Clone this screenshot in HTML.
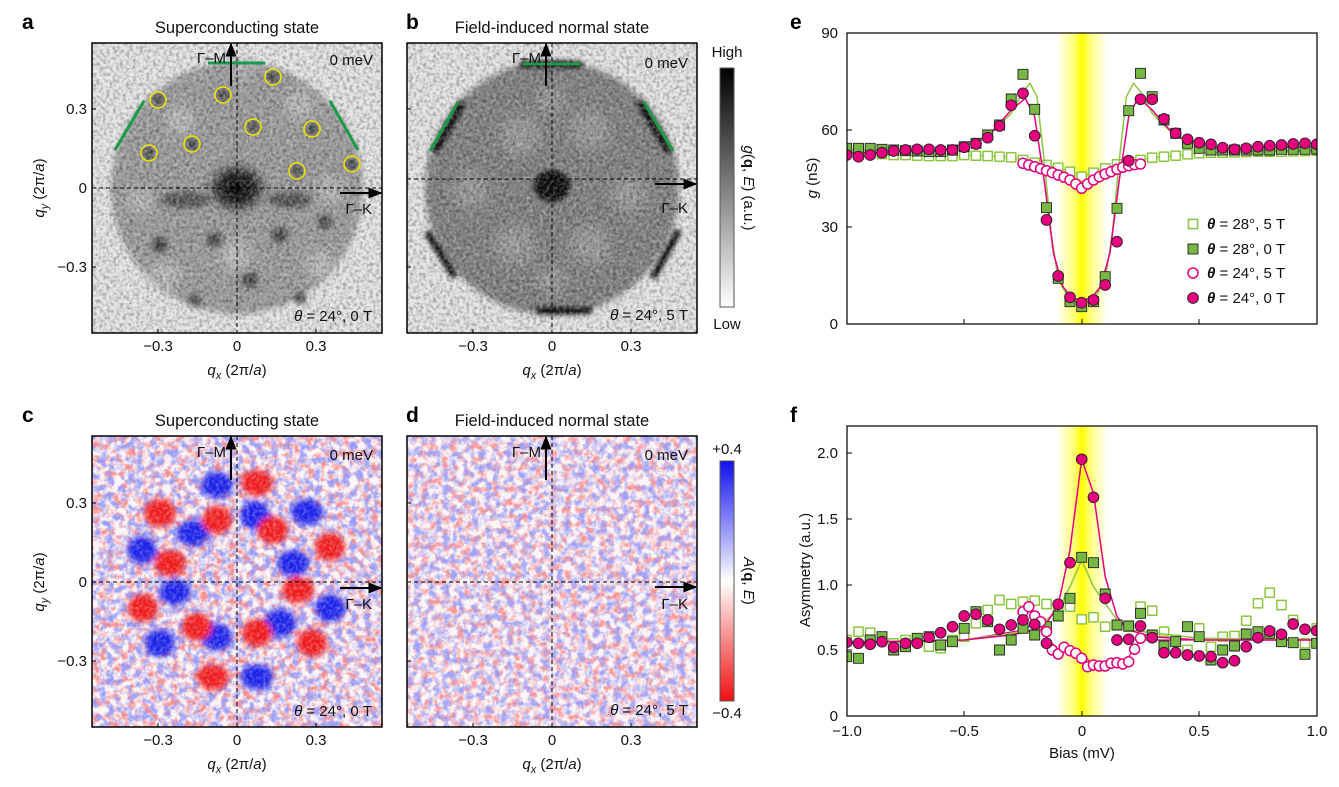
<!DOCTYPE html>
<html><head><meta charset="utf-8">
<style>
html,body{margin:0;padding:0;background:#fff;}
svg{display:block;font-family:"Liberation Sans",Arial,sans-serif;}
.t{font-size:15px;fill:#111;}
.tt{font-size:16.5px;fill:#111;}
.L{font-size:21px;font-weight:bold;fill:#000;}
</style></head><body>
<svg width="1339" height="787" viewBox="0 0 1339 787" xmlns="http://www.w3.org/2000/svg" xmlns:xlink="http://www.w3.org/1999/xlink">
<defs>
<filter id="gn" x="0" y="0" width="1" height="1"><feTurbulence type="fractalNoise" baseFrequency="0.3" numOctaves="2" seed="3"/><feColorMatrix type="matrix" values="0 0 0 0 0 0 0 0 0 0 0 0 0 0 0 2.5 0 0 0 -1.0"/></filter>
<filter id="gw" x="0" y="0" width="1" height="1"><feTurbulence type="fractalNoise" baseFrequency="0.3" numOctaves="2" seed="9"/><feColorMatrix type="matrix" values="0 0 0 0 1 0 0 0 0 1 0 0 0 0 1 2.5 0 0 0 -1.0"/></filter>
<filter id="rn" x="0" y="0" width="1" height="1"><feTurbulence type="fractalNoise" baseFrequency="0.14" numOctaves="3" seed="5"/><feColorMatrix type="matrix" values="0 0 0 0 0.93 0 0 0 0 0.25 0 0 0 0 0.25 3.5 0 0 0 -1.5"/></filter>
<filter id="bn" x="0" y="0" width="1" height="1"><feTurbulence type="fractalNoise" baseFrequency="0.14" numOctaves="3" seed="17"/><feColorMatrix type="matrix" values="0 0 0 0 0.3 0 0 0 0 0.32 0 0 0 0 0.93 3.5 0 0 0 -1.5"/></filter>
<filter id="bl3"><feGaussianBlur stdDeviation="3"/></filter>
<filter id="bl2"><feGaussianBlur stdDeviation="2"/></filter>
<filter id="bl6"><feGaussianBlur stdDeviation="6"/></filter>
<clipPath id="ca"><rect x="92" y="43" width="290" height="290"/></clipPath>
<clipPath id="cb"><rect x="407" y="43" width="290" height="290"/></clipPath>
<clipPath id="cc"><rect x="92" y="436" width="290" height="291"/></clipPath>
<clipPath id="cd"><rect x="407" y="436" width="290" height="291"/></clipPath>
<clipPath id="ce"><rect x="847" y="33" width="470" height="291"/></clipPath>
<clipPath id="cpf"><rect x="847" y="426" width="470" height="290"/></clipPath>
<radialGradient id="cen"><stop offset="0" stop-color="#000"/><stop offset="0.5" stop-color="#111" stop-opacity="0.9"/><stop offset="1" stop-color="#222" stop-opacity="0"/></radialGradient>
<linearGradient id="gcb" x1="0" y1="0" x2="0" y2="1"><stop offset="0" stop-color="#000"/><stop offset="1" stop-color="#fff"/></linearGradient>
<linearGradient id="rcb" x1="0" y1="0" x2="0" y2="1"><stop offset="0" stop-color="#1010ee"/><stop offset="0.5" stop-color="#fff"/><stop offset="1" stop-color="#ee1010"/></linearGradient>
<linearGradient id="yb" x1="0" y1="0" x2="1" y2="0"><stop offset="0" stop-color="#ffff00" stop-opacity="0"/><stop offset="0.3" stop-color="#ffff30" stop-opacity="0.55"/><stop offset="0.5" stop-color="#ffff00" stop-opacity="1"/><stop offset="0.7" stop-color="#ffff30" stop-opacity="0.55"/><stop offset="1" stop-color="#ffff00" stop-opacity="0"/></linearGradient>
<marker id="ar" viewBox="0 0 10 10" refX="9" refY="5" markerWidth="7" markerHeight="7" orient="auto"><path d="M0,1 L10,5 L0,9 z" fill="#000"/></marker>
<rect id="mQO" x="-4.6" y="-4.6" width="9.2" height="9.2" fill="#fff" stroke="#8cc63f" stroke-width="1.5"/>
<rect id="mQF" x="-5" y="-5" width="10" height="10" fill="#76b843" stroke="#222" stroke-width="0.9"/>
<circle id="mCO" r="5" fill="#fff" stroke="#e6007e" stroke-width="1.5"/>
<circle id="mCF" r="5.4" fill="#e6007e" stroke="#222" stroke-width="0.9"/>
</defs>

<text class="L" x="22" y="29">a</text>
<text class="L" x="406" y="29">b</text>
<text class="L" x="790" y="29">e</text>
<text class="L" x="22" y="422">c</text>
<text class="L" x="406" y="422">d</text>
<text class="L" x="790" y="422">f</text>
<text class="tt" x="237" y="33" text-anchor="middle">Superconducting state</text>
<text class="tt" x="552" y="33" text-anchor="middle">Field-induced normal state</text>
<text class="tt" x="237" y="426" text-anchor="middle">Superconducting state</text>
<text class="tt" x="552" y="426" text-anchor="middle">Field-induced normal state</text>

<!-- PANEL A -->
<g clip-path="url(#ca)">
<rect x="92" y="43" width="290" height="290" fill="#e4e4e4"/>
<circle cx="237" cy="188" r="126" fill="#9c9c9c" filter="url(#bl3)"/>
<g filter="url(#bl3)" fill="#444">
<ellipse cx="237" cy="188" rx="32" ry="27" fill="url(#cen)"/>
<circle cx="158" cy="100" r="6"/><circle cx="223" cy="95" r="6"/><circle cx="273" cy="77" r="6"/><circle cx="192" cy="144" r="6"/><circle cx="253" cy="127" r="6"/><circle cx="312" cy="129" r="6"/><circle cx="149" cy="153" r="6"/><circle cx="297" cy="171" r="6"/><circle cx="352" cy="164" r="6"/>
<ellipse cx="185" cy="200" rx="25" ry="8" fill="#555"/><ellipse cx="290" cy="200" rx="22" ry="8" fill="#555"/>
<circle cx="160" cy="245" r="8"/><circle cx="215" cy="240" r="8"/><circle cx="280" cy="235" r="8"/><circle cx="325" cy="222" r="7"/><circle cx="250" cy="280" r="8"/><circle cx="195" cy="300" r="6"/><circle cx="300" cy="298" r="6"/>
</g>
<g fill="#c4c4c4" filter="url(#bl6)" opacity="0.8">
<circle cx="180" cy="120" r="14"/><circle cx="300" cy="105" r="14"/><circle cx="165" cy="275" r="15"/><circle cx="235" cy="255" r="16"/><circle cx="320" cy="265" r="14"/><circle cx="330" cy="190" r="12"/><circle cx="140" cy="200" r="12"/><circle cx="240" cy="70" r="10"/>
</g>
<rect x="92" y="43" width="290" height="290" fill="#000" filter="url(#gn)" opacity="0.3"/>
<rect x="92" y="43" width="290" height="290" fill="#fff" filter="url(#gw)" opacity="0.3"/>
</g>
<g stroke="#000" stroke-width="1" stroke-dasharray="4,3"><line x1="237" y1="43" x2="237" y2="333"/><line x1="92" y1="188" x2="382" y2="188"/></g>
<g stroke="#1a9a4a" stroke-width="3"><line x1="208" y1="63" x2="265" y2="63"/><line x1="115" y1="150" x2="144" y2="101"/><line x1="330" y1="101" x2="358" y2="150"/></g>
<g fill="none" stroke="#f2e600" stroke-width="1.5"><circle cx="158" cy="100" r="8"/><circle cx="223" cy="95" r="8"/><circle cx="273" cy="77" r="8"/><circle cx="192" cy="144" r="8"/><circle cx="253" cy="127" r="8"/><circle cx="312" cy="129" r="8"/><circle cx="149" cy="153" r="8"/><circle cx="297" cy="171" r="8"/><circle cx="352" cy="164" r="8"/></g>
<line x1="231" y1="86" x2="231" y2="44" stroke="#000" stroke-width="2" marker-end="url(#ar)"/>
<line x1="340" y1="193" x2="381" y2="193" stroke="#000" stroke-width="2" marker-end="url(#ar)"/>
<text class="t" x="226" y="63" text-anchor="end">Γ–M</text>
<text class="t" x="373" y="65" text-anchor="end">0 meV</text>
<text class="t" x="372" y="214" text-anchor="end">Γ–K</text>
<text class="t" x="372" y="321" text-anchor="end"><tspan font-style="italic">θ</tspan> = 24°, 0 T</text>
<rect x="92" y="43" width="290" height="290" fill="none" stroke="#000" stroke-width="1.5"/>

<!-- PANEL B -->
<g clip-path="url(#cb)">
<rect x="407" y="43" width="290" height="290" fill="#e4e4e4"/>
<circle cx="552" cy="188" r="127" fill="#808080" filter="url(#bl3)"/>
<g fill="#9c9c9c" filter="url(#bl6)" opacity="0.9">
<circle cx="520" cy="135" r="20"/><circle cx="590" cy="130" r="20"/><circle cx="470" cy="190" r="18"/><circle cx="630" cy="195" r="18"/><circle cx="515" cy="245" r="20"/><circle cx="590" cy="245" r="20"/><circle cx="552" cy="100" r="14"/><circle cx="552" cy="280" r="14"/>
</g>
<g fill="#111" filter="url(#bl2)">
<ellipse cx="552" cy="186" rx="18" ry="16"/>
<rect x="520" y="61" width="62" height="7"/><rect x="537" y="307" width="55" height="7"/>
<path d="M432,150 L460,100 L466,104 L438,154 Z"/><path d="M642,100 L672,150 L666,154 L636,104 Z"/>
<path d="M430,230 L458,275 L452,279 L424,234 Z"/><path d="M676,228 L650,276 L656,280 L682,232 Z"/>
</g>
<rect x="407" y="43" width="290" height="290" fill="#000" filter="url(#gn)" opacity="0.3"/>
<rect x="407" y="43" width="290" height="290" fill="#fff" filter="url(#gw)" opacity="0.3"/>
</g>
<g stroke="#000" stroke-width="1" stroke-dasharray="4,3"><line x1="552" y1="43" x2="552" y2="333"/><line x1="407" y1="179" x2="697" y2="179"/></g>
<g stroke="#1a9a4a" stroke-width="3"><line x1="523" y1="64" x2="580" y2="64"/><line x1="430" y1="151" x2="458" y2="102"/><line x1="644" y1="102" x2="673" y2="151"/></g>
<line x1="546" y1="86" x2="546" y2="44" stroke="#000" stroke-width="2" marker-end="url(#ar)"/>
<line x1="655" y1="184" x2="696" y2="184" stroke="#000" stroke-width="2" marker-end="url(#ar)"/>
<text class="t" x="541" y="63" text-anchor="end">Γ–M</text>
<text class="t" x="688" y="68" text-anchor="end">0 meV</text>
<text class="t" x="688" y="213" text-anchor="end">Γ–K</text>
<text class="t" x="688" y="320" text-anchor="end"><tspan font-style="italic">θ</tspan> = 24°, 5 T</text>
<rect x="407" y="43" width="290" height="290" fill="none" stroke="#000" stroke-width="1.5"/>

<rect x="720" y="68" width="14" height="239" fill="url(#gcb)" stroke="#555" stroke-width="1"/>
<text class="t" x="727" y="57" text-anchor="middle" font-size="16">High</text>
<text class="t" x="727" y="329" text-anchor="middle" font-size="16">Low</text>
<text class="t" transform="translate(744,188) rotate(90)" text-anchor="middle"><tspan font-style="italic">g</tspan>(<tspan font-weight="bold">q</tspan>, <tspan font-style="italic">E</tspan>) (a.u.)</text>

<g class="t" text-anchor="end"><text x="87" y="114">0.3</text><text x="87" y="193">0</text><text x="87" y="272">−0.3</text></g>
<g class="t" text-anchor="middle"><text x="158" y="351">−0.3</text><text x="237" y="351">0</text><text x="316" y="351">0.3</text>
<text x="473" y="351">−0.3</text><text x="552" y="351">0</text><text x="631" y="351">0.3</text></g>
<text class="t" x="237" y="375" text-anchor="middle"><tspan font-style="italic">q</tspan><tspan font-style="italic" font-size="11" dy="4">x</tspan><tspan dy="-4"> (2π/</tspan><tspan font-style="italic">a</tspan>)</text>
<text class="t" x="552" y="375" text-anchor="middle"><tspan font-style="italic">q</tspan><tspan font-style="italic" font-size="11" dy="4">x</tspan><tspan dy="-4"> (2π/</tspan><tspan font-style="italic">a</tspan>)</text>
<text class="t" transform="translate(44,188) rotate(-90)" text-anchor="middle"><tspan font-style="italic">q</tspan><tspan font-style="italic" font-size="11" dy="4">y</tspan><tspan dy="-4"> (2π/</tspan><tspan font-style="italic">a</tspan>)</text>
<g stroke="#000"><line x1="92" y1="109" x2="96" y2="109"/><line x1="92" y1="267" x2="96" y2="267"/><line x1="158" y1="333" x2="158" y2="329"/><line x1="316" y1="333" x2="316" y2="329"/>
<line x1="407" y1="109" x2="411" y2="109"/><line x1="407" y1="267" x2="411" y2="267"/><line x1="473" y1="333" x2="473" y2="329"/><line x1="631" y1="333" x2="631" y2="329"/></g>

<!-- PANEL C -->
<g clip-path="url(#cc)">
<rect x="92" y="436" width="290" height="291" fill="#fbf4f6"/>
<rect x="92" y="436" width="290" height="291" filter="url(#rn)"/>
<rect x="92" y="436" width="290" height="291" filter="url(#bn)"/>
<g filter="url(#bl3)">
<g fill="#1a22e8"><ellipse cx="217" cy="485" rx="16" ry="13"/><ellipse cx="255" cy="515" rx="15" ry="14"/><ellipse cx="193" cy="533" rx="16" ry="13"/><ellipse cx="142" cy="550" rx="15" ry="14"/><ellipse cx="307" cy="512" rx="16" ry="13"/><ellipse cx="293" cy="563" rx="16" ry="13"/><ellipse cx="175" cy="592" rx="16" ry="13"/><ellipse cx="330" cy="608" rx="15" ry="14"/><ellipse cx="160" cy="643" rx="15" ry="14"/><ellipse cx="217" cy="637" rx="15" ry="14"/><ellipse cx="280" cy="623" rx="16" ry="14"/><ellipse cx="257" cy="677" rx="16" ry="13"/></g>
<g fill="#ee1c1c"><ellipse cx="257" cy="483" rx="16" ry="13"/><ellipse cx="160" cy="513" rx="16" ry="14"/><ellipse cx="217" cy="520" rx="15" ry="14"/><ellipse cx="273" cy="530" rx="15" ry="14"/><ellipse cx="330" cy="547" rx="15" ry="14"/><ellipse cx="170" cy="563" rx="16" ry="13"/><ellipse cx="298" cy="590" rx="16" ry="13"/><ellipse cx="143" cy="608" rx="15" ry="14"/><ellipse cx="197" cy="627" rx="15" ry="14"/><ellipse cx="257" cy="633" rx="15" ry="14"/><ellipse cx="312" cy="643" rx="15" ry="14"/><ellipse cx="213" cy="677" rx="16" ry="13"/></g>
</g>
<rect x="92" y="436" width="290" height="291" fill="#fff" filter="url(#gw)" opacity="0.3"/>
</g>
<g stroke="#000" stroke-width="1" stroke-dasharray="4,3"><line x1="237" y1="436" x2="237" y2="727"/><line x1="92" y1="582" x2="382" y2="582"/></g>
<line x1="231" y1="480" x2="231" y2="437" stroke="#000" stroke-width="2" marker-end="url(#ar)"/>
<line x1="340" y1="588" x2="381" y2="588" stroke="#000" stroke-width="2" marker-end="url(#ar)"/>
<text class="t" x="226" y="457" text-anchor="end">Γ–M</text>
<text class="t" x="373" y="460" text-anchor="end">0 meV</text>
<text class="t" x="372" y="609" text-anchor="end">Γ–K</text>
<text class="t" x="372" y="716" text-anchor="end"><tspan font-style="italic">θ</tspan> = 24°, 0 T</text>
<rect x="92" y="436" width="290" height="291" fill="none" stroke="#000" stroke-width="1.5"/>

<!-- PANEL D -->
<g clip-path="url(#cd)">
<rect x="407" y="436" width="290" height="291" fill="#fbf4f6"/>
<rect x="407" y="436" width="290" height="291" filter="url(#rn)" opacity="0.9"/>
<rect x="407" y="436" width="290" height="291" filter="url(#bn)" opacity="0.9"/>
<rect x="407" y="436" width="290" height="291" fill="#fff" filter="url(#gw)" opacity="0.3"/>
</g>
<g stroke="#000" stroke-width="1" stroke-dasharray="4,3"><line x1="552" y1="436" x2="552" y2="727"/><line x1="407" y1="582" x2="697" y2="582"/></g>
<line x1="546" y1="480" x2="546" y2="437" stroke="#000" stroke-width="2" marker-end="url(#ar)"/>
<line x1="655" y1="587" x2="696" y2="587" stroke="#000" stroke-width="2" marker-end="url(#ar)"/>
<text class="t" x="541" y="457" text-anchor="end">Γ–M</text>
<text class="t" x="688" y="460" text-anchor="end">0 meV</text>
<text class="t" x="688" y="609" text-anchor="end">Γ–K</text>
<text class="t" x="688" y="715" text-anchor="end"><tspan font-style="italic">θ</tspan> = 24°, 5 T</text>
<rect x="407" y="436" width="290" height="291" fill="none" stroke="#000" stroke-width="1.5"/>

<rect x="720" y="461" width="14" height="240" fill="url(#rcb)" stroke="#555" stroke-width="1"/>
<text class="t" x="727" y="454" text-anchor="middle">+0.4</text>
<text class="t" x="727" y="718" text-anchor="middle">−0.4</text>
<text class="t" transform="translate(744,581) rotate(90)" text-anchor="middle"><tspan font-style="italic">A</tspan>(<tspan font-weight="bold">q</tspan>, <tspan font-style="italic">E</tspan>)</text>

<g class="t" text-anchor="end"><text x="87" y="508">0.3</text><text x="87" y="587">0</text><text x="87" y="666">−0.3</text></g>
<g class="t" text-anchor="middle"><text x="158" y="745">−0.3</text><text x="237" y="745">0</text><text x="316" y="745">0.3</text>
<text x="473" y="745">−0.3</text><text x="552" y="745">0</text><text x="631" y="745">0.3</text></g>
<text class="t" x="237" y="769" text-anchor="middle"><tspan font-style="italic">q</tspan><tspan font-style="italic" font-size="11" dy="4">x</tspan><tspan dy="-4"> (2π/</tspan><tspan font-style="italic">a</tspan>)</text>
<text class="t" x="552" y="769" text-anchor="middle"><tspan font-style="italic">q</tspan><tspan font-style="italic" font-size="11" dy="4">x</tspan><tspan dy="-4"> (2π/</tspan><tspan font-style="italic">a</tspan>)</text>
<text class="t" transform="translate(44,582) rotate(-90)" text-anchor="middle"><tspan font-style="italic">q</tspan><tspan font-style="italic" font-size="11" dy="4">y</tspan><tspan dy="-4"> (2π/</tspan><tspan font-style="italic">a</tspan>)</text>
<g stroke="#000"><line x1="92" y1="503" x2="96" y2="503"/><line x1="92" y1="661" x2="96" y2="661"/><line x1="158" y1="727" x2="158" y2="723"/><line x1="316" y1="727" x2="316" y2="723"/>
<line x1="407" y1="503" x2="411" y2="503"/><line x1="407" y1="661" x2="411" y2="661"/><line x1="473" y1="727" x2="473" y2="723"/><line x1="631" y1="727" x2="631" y2="723"/></g>

<!-- PANEL E -->
<rect x="1057" y="33" width="50" height="291" fill="url(#yb)"/>
<g clip-path="url(#ce)" fill="none" stroke-linejoin="round">
<polyline stroke="#8cc63f" stroke-width="1.2" points="846.7,151.7 858.5,152.3 870.2,153.3 882,154 893.7,155 905.5,155 917.2,155.7 929,156 940.7,156 952.5,156 964.2,155 976,155.7 987.7,156 999.5,156.7 1011.2,157.3 1023,160 1034.7,162.7 1046.5,165 1058.2,167.7 1070,171.7 1081.7,176.7 1093.5,172.7 1105.2,168.3 1117,164.3 1128.7,161.7 1140.5,160 1152.2,157.7 1164,156.7 1175.7,155.7 1187.5,154.3 1199.2,153.3 1211,152.7 1222.7,152.7 1234.5,152.3 1246.2,152 1258,151.7 1269.7,151.7 1281.5,151.7 1293.2,151.3 1305,151 1316.7,150.7"/>
<g>
<use xlink:href="#mQO" x="846.7" y="151.7"/><use xlink:href="#mQO" x="858.5" y="152.3"/><use xlink:href="#mQO" x="870.2" y="153.3"/><use xlink:href="#mQO" x="882" y="154"/><use xlink:href="#mQO" x="893.7" y="155"/><use xlink:href="#mQO" x="905.5" y="155"/><use xlink:href="#mQO" x="917.2" y="155.7"/><use xlink:href="#mQO" x="929" y="156"/><use xlink:href="#mQO" x="940.7" y="156"/><use xlink:href="#mQO" x="952.5" y="156"/><use xlink:href="#mQO" x="964.2" y="155"/><use xlink:href="#mQO" x="976" y="155.7"/><use xlink:href="#mQO" x="987.7" y="156"/><use xlink:href="#mQO" x="999.5" y="156.7"/><use xlink:href="#mQO" x="1011.2" y="157.3"/><use xlink:href="#mQO" x="1023" y="160"/><use xlink:href="#mQO" x="1034.7" y="162.7"/><use xlink:href="#mQO" x="1046.5" y="165"/><use xlink:href="#mQO" x="1058.2" y="167.7"/><use xlink:href="#mQO" x="1070" y="171.7"/><use xlink:href="#mQO" x="1081.7" y="176.7"/><use xlink:href="#mQO" x="1093.5" y="172.7"/><use xlink:href="#mQO" x="1105.2" y="168.3"/><use xlink:href="#mQO" x="1117" y="164.3"/><use xlink:href="#mQO" x="1128.7" y="161.7"/><use xlink:href="#mQO" x="1140.5" y="160"/><use xlink:href="#mQO" x="1152.2" y="157.7"/><use xlink:href="#mQO" x="1164" y="156.7"/><use xlink:href="#mQO" x="1175.7" y="155.7"/><use xlink:href="#mQO" x="1187.5" y="154.3"/><use xlink:href="#mQO" x="1199.2" y="153.3"/><use xlink:href="#mQO" x="1211" y="152.7"/><use xlink:href="#mQO" x="1222.7" y="152.7"/><use xlink:href="#mQO" x="1234.5" y="152.3"/><use xlink:href="#mQO" x="1246.2" y="152"/><use xlink:href="#mQO" x="1258" y="151.7"/><use xlink:href="#mQO" x="1269.7" y="151.7"/><use xlink:href="#mQO" x="1281.5" y="151.7"/><use xlink:href="#mQO" x="1293.2" y="151.3"/><use xlink:href="#mQO" x="1305" y="151"/><use xlink:href="#mQO" x="1316.7" y="150.7"/>
</g>
<polyline stroke="#e6007e" stroke-width="1.2" points="1023,163.3 1028.8,165 1034.7,166.7 1040.6,168.7 1046.5,170.7 1052.3,172.7 1058.2,175 1064.1,177.3 1070,180 1075.8,184 1081.7,188.3 1087.6,184 1093.5,180 1099.3,176.7 1105.2,174 1111.1,171.7 1117,169.3 1122.8,167.3 1128.7,165.7 1134.6,164.7 1140.5,164"/>
<polyline stroke="#8cc63f" stroke-width="1.5" points="846.7,150 940.7,150.7 987.7,136.7 1011.2,113.3 1023,91.7 1030,83.3 1037,96.7 1044.1,160 1051.2,233.3 1058.2,280 1070,300 1081.7,303.3 1093.5,300 1105.2,280 1112.3,233.3 1119.3,160 1126.4,96.7 1133.4,83.3 1140.5,91.7 1152.2,113.3 1175.7,136.7 1222.7,150.7 1316.7,150"/>
<polyline stroke="#e6007e" stroke-width="1.5" points="846.7,153.3 940.7,150.7 987.7,136.7 1011.2,110 1025.3,98.3 1034.7,116.7 1044.1,180 1053.5,253.3 1062.9,286.7 1072.3,298.3 1081.7,300 1091.1,298.3 1100.5,286.7 1109.9,253.3 1119.3,180 1128.7,116.7 1138.1,97.3 1152.2,110 1175.7,136.7 1222.7,148.3 1316.7,146.7"/>
<g>
<use xlink:href="#mQF" x="846.7" y="148.3"/><use xlink:href="#mQF" x="858.5" y="148.3"/><use xlink:href="#mQF" x="870.2" y="148.3"/><use xlink:href="#mQF" x="882" y="149.3"/><use xlink:href="#mQF" x="893.7" y="150"/><use xlink:href="#mQF" x="905.5" y="150.7"/><use xlink:href="#mQF" x="917.2" y="151"/><use xlink:href="#mQF" x="929" y="151.7"/><use xlink:href="#mQF" x="940.7" y="151.7"/><use xlink:href="#mQF" x="952.5" y="150"/><use xlink:href="#mQF" x="964.2" y="146.7"/><use xlink:href="#mQF" x="976" y="143.3"/><use xlink:href="#mQF" x="987.7" y="135"/><use xlink:href="#mQF" x="999.5" y="125"/><use xlink:href="#mQF" x="1011.2" y="99"/><use xlink:href="#mQF" x="1023" y="74.3"/><use xlink:href="#mQF" x="1034.7" y="109.3"/><use xlink:href="#mQF" x="1046.5" y="207.7"/><use xlink:href="#mQF" x="1058.2" y="278.3"/><use xlink:href="#mQF" x="1070" y="301.7"/><use xlink:href="#mQF" x="1081.7" y="306.7"/><use xlink:href="#mQF" x="1093.5" y="301.7"/><use xlink:href="#mQF" x="1105.2" y="276.7"/><use xlink:href="#mQF" x="1117" y="208.3"/><use xlink:href="#mQF" x="1128.7" y="110.7"/><use xlink:href="#mQF" x="1140.5" y="73.3"/><use xlink:href="#mQF" x="1152.2" y="96.7"/><use xlink:href="#mQF" x="1164" y="120"/><use xlink:href="#mQF" x="1175.7" y="133.3"/><use xlink:href="#mQF" x="1187.5" y="143.3"/><use xlink:href="#mQF" x="1199.2" y="148.3"/><use xlink:href="#mQF" x="1211" y="150"/><use xlink:href="#mQF" x="1222.7" y="150"/><use xlink:href="#mQF" x="1234.5" y="150"/><use xlink:href="#mQF" x="1246.2" y="150"/><use xlink:href="#mQF" x="1258" y="150"/><use xlink:href="#mQF" x="1269.7" y="150"/><use xlink:href="#mQF" x="1281.5" y="149.3"/><use xlink:href="#mQF" x="1293.2" y="149.3"/><use xlink:href="#mQF" x="1305" y="149.3"/><use xlink:href="#mQF" x="1316.7" y="149"/>
</g>
<g>
<use xlink:href="#mCO" x="1023" y="163.3"/><use xlink:href="#mCO" x="1028.8" y="165"/><use xlink:href="#mCO" x="1034.7" y="166.7"/><use xlink:href="#mCO" x="1040.6" y="168.7"/><use xlink:href="#mCO" x="1046.5" y="170.7"/><use xlink:href="#mCO" x="1052.3" y="172.7"/><use xlink:href="#mCO" x="1058.2" y="175"/><use xlink:href="#mCO" x="1064.1" y="177.3"/><use xlink:href="#mCO" x="1070" y="180"/><use xlink:href="#mCO" x="1075.8" y="184"/><use xlink:href="#mCO" x="1081.7" y="188.3"/><use xlink:href="#mCO" x="1087.6" y="184"/><use xlink:href="#mCO" x="1093.5" y="180"/><use xlink:href="#mCO" x="1099.3" y="176.7"/><use xlink:href="#mCO" x="1105.2" y="174"/><use xlink:href="#mCO" x="1111.1" y="171.7"/><use xlink:href="#mCO" x="1117" y="169.3"/><use xlink:href="#mCO" x="1122.8" y="167.3"/><use xlink:href="#mCO" x="1128.7" y="165.7"/><use xlink:href="#mCO" x="1134.6" y="164.7"/><use xlink:href="#mCO" x="1140.5" y="164"/>
</g>
<g>
<use xlink:href="#mCF" x="846.7" y="155"/><use xlink:href="#mCF" x="858.5" y="156.7"/><use xlink:href="#mCF" x="870.2" y="155"/><use xlink:href="#mCF" x="882" y="152.7"/><use xlink:href="#mCF" x="893.7" y="151"/><use xlink:href="#mCF" x="905.5" y="150"/><use xlink:href="#mCF" x="917.2" y="149.3"/><use xlink:href="#mCF" x="929" y="149.3"/><use xlink:href="#mCF" x="940.7" y="150"/><use xlink:href="#mCF" x="952.5" y="150"/><use xlink:href="#mCF" x="964.2" y="147.3"/><use xlink:href="#mCF" x="976" y="144"/><use xlink:href="#mCF" x="987.7" y="137.7"/><use xlink:href="#mCF" x="999.5" y="126"/><use xlink:href="#mCF" x="1011.2" y="105.3"/><use xlink:href="#mCF" x="1023" y="93.3"/><use xlink:href="#mCF" x="1034.7" y="135.7"/><use xlink:href="#mCF" x="1046.5" y="220"/><use xlink:href="#mCF" x="1058.2" y="276"/><use xlink:href="#mCF" x="1070" y="297.3"/><use xlink:href="#mCF" x="1081.7" y="302.7"/><use xlink:href="#mCF" x="1093.5" y="300"/><use xlink:href="#mCF" x="1105.2" y="285"/><use xlink:href="#mCF" x="1117" y="241.7"/><use xlink:href="#mCF" x="1128.7" y="160.7"/><use xlink:href="#mCF" x="1140.5" y="99.3"/><use xlink:href="#mCF" x="1152.2" y="99.3"/><use xlink:href="#mCF" x="1164" y="119"/><use xlink:href="#mCF" x="1175.7" y="133.3"/><use xlink:href="#mCF" x="1187.5" y="139.3"/><use xlink:href="#mCF" x="1199.2" y="142.7"/><use xlink:href="#mCF" x="1211" y="144.3"/><use xlink:href="#mCF" x="1222.7" y="147.7"/><use xlink:href="#mCF" x="1234.5" y="149.3"/><use xlink:href="#mCF" x="1246.2" y="148.3"/><use xlink:href="#mCF" x="1258" y="146.7"/><use xlink:href="#mCF" x="1269.7" y="145.7"/><use xlink:href="#mCF" x="1281.5" y="145"/><use xlink:href="#mCF" x="1293.2" y="144"/><use xlink:href="#mCF" x="1305" y="143.3"/><use xlink:href="#mCF" x="1316.7" y="144.3"/>
</g>
</g>
<rect x="847" y="33" width="470" height="291" fill="none" stroke="#000" stroke-width="1.2"/>
<g stroke="#000"><line x1="847" y1="227" x2="852" y2="227"/><line x1="847" y1="130" x2="852" y2="130"/><line x1="964" y1="324" x2="964" y2="319"/><line x1="1082" y1="324" x2="1082" y2="319"/><line x1="1199" y1="324" x2="1199" y2="319"/></g>
<g class="t" text-anchor="end"><text x="838" y="329">0</text><text x="838" y="232">30</text><text x="838" y="135">60</text><text x="838" y="38">90</text></g>
<text class="t" transform="translate(817,178) rotate(-90)" text-anchor="middle"><tspan font-style="italic">g</tspan> (nS)</text>
<use xlink:href="#mQO" x="1193" y="224"/><use xlink:href="#mQF" x="1193" y="249"/><use xlink:href="#mCO" x="1193" y="273"/><use xlink:href="#mCF" x="1193" y="298"/>
<g class="t" font-size="15.5">
<text x="1207" y="229"><tspan font-style="italic" font-weight="bold">θ</tspan> = 28°, 5 T</text>
<text x="1207" y="254"><tspan font-style="italic" font-weight="bold">θ</tspan> = 28°, 0 T</text>
<text x="1207" y="278"><tspan font-style="italic" font-weight="bold">θ</tspan> = 24°, 5 T</text>
<text x="1207" y="303"><tspan font-style="italic" font-weight="bold">θ</tspan> = 24°, 0 T</text>
</g>

<!-- PANEL F -->
<rect x="1057" y="426" width="50" height="290" fill="url(#yb)"/>
<g clip-path="url(#cpf)" fill="none" stroke-linejoin="round">
<g>
<use xlink:href="#mQO" x="846.7" y="640"/><use xlink:href="#mQO" x="858.5" y="631.7"/><use xlink:href="#mQO" x="870.2" y="632.7"/><use xlink:href="#mQO" x="882" y="640"/><use xlink:href="#mQO" x="893.7" y="643.3"/><use xlink:href="#mQO" x="905.5" y="640"/><use xlink:href="#mQO" x="917.2" y="641.7"/><use xlink:href="#mQO" x="929" y="646.7"/><use xlink:href="#mQO" x="940.7" y="648.3"/><use xlink:href="#mQO" x="952.5" y="640"/><use xlink:href="#mQO" x="964.2" y="636.7"/><use xlink:href="#mQO" x="976" y="623.3"/><use xlink:href="#mQO" x="987.7" y="610"/><use xlink:href="#mQO" x="999.5" y="600"/><use xlink:href="#mQO" x="1011.2" y="604"/><use xlink:href="#mQO" x="1023" y="601.7"/><use xlink:href="#mQO" x="1034.7" y="600.7"/><use xlink:href="#mQO" x="1046.5" y="604"/><use xlink:href="#mQO" x="1058.2" y="610"/><use xlink:href="#mQO" x="1070" y="606.7"/><use xlink:href="#mQO" x="1081.7" y="619.3"/><use xlink:href="#mQO" x="1093.5" y="617.3"/><use xlink:href="#mQO" x="1105.2" y="626.7"/><use xlink:href="#mQO" x="1117" y="625"/><use xlink:href="#mQO" x="1128.7" y="626.7"/><use xlink:href="#mQO" x="1140.5" y="606.7"/><use xlink:href="#mQO" x="1152.2" y="610.7"/><use xlink:href="#mQO" x="1164" y="631.7"/><use xlink:href="#mQO" x="1175.7" y="640"/><use xlink:href="#mQO" x="1187.5" y="650"/><use xlink:href="#mQO" x="1199.2" y="628.3"/><use xlink:href="#mQO" x="1211" y="646.7"/><use xlink:href="#mQO" x="1222.7" y="636.7"/><use xlink:href="#mQO" x="1234.5" y="636"/><use xlink:href="#mQO" x="1246.2" y="620.7"/><use xlink:href="#mQO" x="1258" y="603.3"/><use xlink:href="#mQO" x="1269.7" y="592.7"/><use xlink:href="#mQO" x="1281.5" y="605"/><use xlink:href="#mQO" x="1293.2" y="620"/><use xlink:href="#mQO" x="1305" y="643.3"/><use xlink:href="#mQO" x="1316.7" y="628.3"/>
</g>
<polyline stroke="#e6007e" stroke-width="1.2" points="846.7,642.3 964.2,640 1023,630 1034.7,623.3 1046.5,636.7 1058.2,650 1070,651.7 1081.7,653.3 1093.5,665 1105.2,666 1117,664 1128.7,656.7 1140.5,640 1175.7,640 1316.7,640"/>
<polyline stroke="#8cc63f" stroke-width="1.5" points="846.7,643.3 964.2,640 1034.7,630 1058.2,610 1070,586.7 1081.7,560 1093.5,586.7 1105.2,603.3 1117,620 1128.7,630 1199.2,638.3 1316.7,640"/>
<polyline stroke="#e6007e" stroke-width="1.5" points="846.7,642.3 964.2,640 1011.2,635 1034.7,630 1046.5,623.3 1058.2,605 1070,550 1081.7,459.3 1093.5,493.3 1105.2,576.7 1117,616.7 1128.7,630 1152.2,636.7 1199.2,640 1316.7,640"/>
<g>
<use xlink:href="#mQF" x="846.7" y="656.7"/><use xlink:href="#mQF" x="858.5" y="658.3"/><use xlink:href="#mQF" x="870.2" y="640"/><use xlink:href="#mQF" x="882" y="636.7"/><use xlink:href="#mQF" x="893.7" y="650"/><use xlink:href="#mQF" x="905.5" y="646.7"/><use xlink:href="#mQF" x="917.2" y="638.3"/><use xlink:href="#mQF" x="929" y="636.7"/><use xlink:href="#mQF" x="940.7" y="645"/><use xlink:href="#mQF" x="952.5" y="641.7"/><use xlink:href="#mQF" x="964.2" y="628.3"/><use xlink:href="#mQF" x="976" y="611.7"/><use xlink:href="#mQF" x="987.7" y="621.7"/><use xlink:href="#mQF" x="999.5" y="650"/><use xlink:href="#mQF" x="1011.2" y="640"/><use xlink:href="#mQF" x="1023" y="628.3"/><use xlink:href="#mQF" x="1034.7" y="635"/><use xlink:href="#mQF" x="1046.5" y="626.7"/><use xlink:href="#mQF" x="1058.2" y="616"/><use xlink:href="#mQF" x="1070" y="598.3"/><use xlink:href="#mQF" x="1081.7" y="557.3"/><use xlink:href="#mQF" x="1093.5" y="562.7"/><use xlink:href="#mQF" x="1105.2" y="594"/><use xlink:href="#mQF" x="1117" y="625"/><use xlink:href="#mQF" x="1128.7" y="626"/><use xlink:href="#mQF" x="1140.5" y="613.3"/><use xlink:href="#mQF" x="1152.2" y="635"/><use xlink:href="#mQF" x="1164" y="646"/><use xlink:href="#mQF" x="1175.7" y="641.7"/><use xlink:href="#mQF" x="1187.5" y="626.7"/><use xlink:href="#mQF" x="1199.2" y="636.7"/><use xlink:href="#mQF" x="1211" y="660"/><use xlink:href="#mQF" x="1222.7" y="650"/><use xlink:href="#mQF" x="1234.5" y="646"/><use xlink:href="#mQF" x="1246.2" y="634"/><use xlink:href="#mQF" x="1258" y="631.7"/><use xlink:href="#mQF" x="1269.7" y="633.3"/><use xlink:href="#mQF" x="1281.5" y="641.7"/><use xlink:href="#mQF" x="1293.2" y="642.7"/><use xlink:href="#mQF" x="1305" y="654.3"/><use xlink:href="#mQF" x="1316.7" y="643.3"/>
</g>
<g>
<use xlink:href="#mCO" x="1023" y="611.7"/><use xlink:href="#mCO" x="1028.8" y="606.7"/><use xlink:href="#mCO" x="1034.7" y="616"/><use xlink:href="#mCO" x="1040.6" y="621.7"/><use xlink:href="#mCO" x="1046.5" y="631.7"/><use xlink:href="#mCO" x="1052.3" y="650"/><use xlink:href="#mCO" x="1058.2" y="654"/><use xlink:href="#mCO" x="1064.1" y="647.3"/><use xlink:href="#mCO" x="1070" y="650.7"/><use xlink:href="#mCO" x="1075.8" y="653.3"/><use xlink:href="#mCO" x="1081.7" y="658.3"/><use xlink:href="#mCO" x="1087.6" y="666.7"/><use xlink:href="#mCO" x="1093.5" y="665"/><use xlink:href="#mCO" x="1099.3" y="666"/><use xlink:href="#mCO" x="1105.2" y="666"/><use xlink:href="#mCO" x="1111.1" y="663.3"/><use xlink:href="#mCO" x="1117" y="662.7"/><use xlink:href="#mCO" x="1122.8" y="664"/><use xlink:href="#mCO" x="1128.7" y="661.7"/><use xlink:href="#mCO" x="1134.6" y="649.3"/><use xlink:href="#mCO" x="1140.5" y="638.3"/>
</g>
<g>
<use xlink:href="#mCF" x="846.7" y="642.3"/><use xlink:href="#mCF" x="858.5" y="643.3"/><use xlink:href="#mCF" x="870.2" y="644.3"/><use xlink:href="#mCF" x="882" y="641.7"/><use xlink:href="#mCF" x="893.7" y="647.3"/><use xlink:href="#mCF" x="905.5" y="643.3"/><use xlink:href="#mCF" x="917.2" y="643.3"/><use xlink:href="#mCF" x="929" y="637.3"/><use xlink:href="#mCF" x="940.7" y="632.7"/><use xlink:href="#mCF" x="952.5" y="626.7"/><use xlink:href="#mCF" x="964.2" y="616"/><use xlink:href="#mCF" x="976" y="614.3"/><use xlink:href="#mCF" x="987.7" y="620"/><use xlink:href="#mCF" x="999.5" y="629.3"/><use xlink:href="#mCF" x="1011.2" y="625"/><use xlink:href="#mCF" x="1023" y="620"/><use xlink:href="#mCF" x="1034.7" y="624.3"/><use xlink:href="#mCF" x="1046.5" y="643.3"/><use xlink:href="#mCF" x="1058.2" y="604.3"/><use xlink:href="#mCF" x="1070" y="562.7"/><use xlink:href="#mCF" x="1081.7" y="459.3"/><use xlink:href="#mCF" x="1093.5" y="497.3"/><use xlink:href="#mCF" x="1105.2" y="598.3"/><use xlink:href="#mCF" x="1117" y="640"/><use xlink:href="#mCF" x="1128.7" y="639.3"/><use xlink:href="#mCF" x="1140.5" y="626"/><use xlink:href="#mCF" x="1152.2" y="637.7"/><use xlink:href="#mCF" x="1164" y="652.7"/><use xlink:href="#mCF" x="1175.7" y="652.7"/><use xlink:href="#mCF" x="1187.5" y="655"/><use xlink:href="#mCF" x="1199.2" y="656"/><use xlink:href="#mCF" x="1211" y="656.7"/><use xlink:href="#mCF" x="1222.7" y="662.7"/><use xlink:href="#mCF" x="1234.5" y="660.7"/><use xlink:href="#mCF" x="1246.2" y="646.7"/><use xlink:href="#mCF" x="1258" y="637.7"/><use xlink:href="#mCF" x="1269.7" y="631"/><use xlink:href="#mCF" x="1281.5" y="634.3"/><use xlink:href="#mCF" x="1293.2" y="624"/><use xlink:href="#mCF" x="1305" y="629.3"/><use xlink:href="#mCF" x="1316.7" y="630.7"/>
</g>
</g>
<rect x="847" y="426" width="470" height="290" fill="none" stroke="#000" stroke-width="1.2"/>
<g stroke="#000"><line x1="847" y1="650" x2="852" y2="650"/><line x1="847" y1="585" x2="852" y2="585"/><line x1="847" y1="519" x2="852" y2="519"/><line x1="847" y1="453" x2="852" y2="453"/><line x1="964" y1="716" x2="964" y2="711"/><line x1="1082" y1="716" x2="1082" y2="711"/><line x1="1199" y1="716" x2="1199" y2="711"/></g>
<g class="t" text-anchor="end"><text x="838" y="721">0</text><text x="838" y="655">0.5</text><text x="838" y="590">1.0</text><text x="838" y="524">1.5</text><text x="838" y="458">2.0</text></g>
<g class="t" text-anchor="middle"><text x="847" y="736">−1.0</text><text x="964" y="736">−0.5</text><text x="1082" y="736">0</text><text x="1199" y="736">0.5</text><text x="1317" y="736">1.0</text></g>
<text class="t" x="1082" y="758" text-anchor="middle">Bias (mV)</text>
<text class="t" transform="translate(810,570) rotate(-90)" text-anchor="middle">Asymmetry (a.u.)</text>
</svg>
</body></html>
